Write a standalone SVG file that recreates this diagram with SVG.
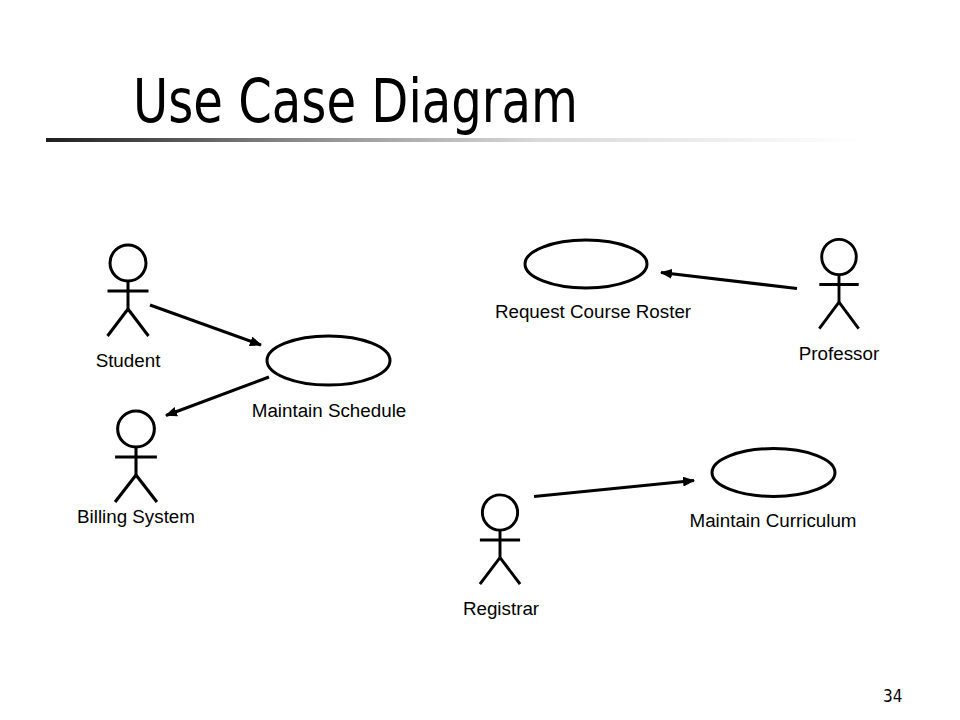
<svg xmlns="http://www.w3.org/2000/svg" width="960" height="720" viewBox="0 0 960 720">
<defs>
<linearGradient id="bar" gradientUnits="userSpaceOnUse" x1="46" y1="0" x2="860" y2="0">
<stop offset="0" stop-color="#1e1e1e"/>
<stop offset="0.3" stop-color="#888888"/>
<stop offset="0.6" stop-color="#d8d8d8"/>
<stop offset="1" stop-color="#ffffff"/>
</linearGradient>
<marker id="arrow" markerUnits="userSpaceOnUse" markerWidth="12" markerHeight="10" refX="11" refY="5" orient="auto" viewBox="0 0 12 10">
<path d="M0,0 L12,5 L0,10 z" fill="#000"/>
</marker>
<g id="actorShape">
<circle cx="0" cy="0" r="18"/>
<line x1="0" y1="18" x2="0" y2="46"/>
<line x1="-20.5" y1="28" x2="20.5" y2="28"/>
<line x1="0" y1="46" x2="-20.5" y2="73"/>
<line x1="0" y1="46" x2="20.5" y2="73"/>
</g>
</defs>
<style>
.actor { fill: #fff; stroke: #000; stroke-width: 3; }
.usecase { fill: #fff; stroke: #000; stroke-width: 3; }
.label { font-family: "Liberation Sans", Arial, sans-serif; font-size: 18.8px; fill: #000; text-anchor: middle; }
.conn line { stroke: #000; stroke-width: 3; marker-end: url(#arrow); }
.title { font-family: "DejaVu Sans Condensed", "DejaVu Sans", sans-serif; font-size: 60px; fill: #000; }
.pagenum { font-family: "DejaVu Sans Condensed", "DejaVu Sans", sans-serif; font-size: 17px; fill: #000; }
</style>
<rect x="0" y="0" width="960" height="720" fill="#fff"/>

<g id="header">
<text class="title" x="133" y="122" textLength="445" lengthAdjust="spacingAndGlyphs">Use Case Diagram</text>
<rect x="46" y="138" width="814" height="4" fill="url(#bar)"/>
</g>

<g id="student">
<use href="#actorShape" class="actor" transform="translate(128,263)"/>
<text class="label" x="128" y="367">Student</text>
</g>

<g id="billing-system">
<use href="#actorShape" class="actor" transform="translate(136,429) scale(1.02,1)"/>
<text class="label" x="136" y="523">Billing System</text>
</g>

<g id="professor">
<use href="#actorShape" class="actor" transform="translate(839,257) scale(0.96,0.98)"/>
<text class="label" x="839" y="360">Professor</text>
</g>

<g id="registrar">
<use href="#actorShape" class="actor" transform="translate(500,512.5) scale(0.98,0.98)"/>
<text class="label" x="501" y="615">Registrar</text>
</g>

<g id="maintain-schedule">
<ellipse class="usecase" cx="328.5" cy="360.5" rx="61.5" ry="24.5"/>
<text class="label" x="329" y="417">Maintain Schedule</text>
</g>

<g id="request-course-roster">
<ellipse class="usecase" cx="586" cy="264" rx="61" ry="24"/>
<text class="label" x="593" y="318">Request Course Roster</text>
</g>

<g id="maintain-curriculum">
<ellipse class="usecase" cx="773.5" cy="472.5" rx="61.5" ry="24"/>
<text class="label" x="773" y="527">Maintain Curriculum</text>
</g>

<g id="connectors" class="conn">
<line x1="150" y1="305" x2="261" y2="345"/>
<line x1="269" y1="377" x2="166" y2="415.5"/>
<line x1="797" y1="288.5" x2="661" y2="272.5"/>
<line x1="534" y1="496.5" x2="694" y2="480.5"/>
</g>

<g id="page-number">
<text class="pagenum" x="883" y="702">34</text>
</g>
</svg>
